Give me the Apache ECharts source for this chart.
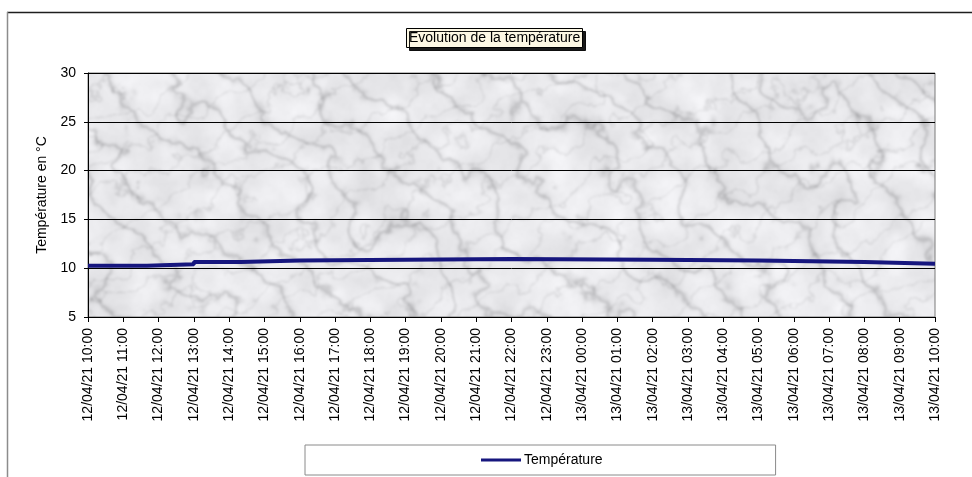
<!DOCTYPE html>
<html>
<head>
<meta charset="utf-8">
<script src="https://cdn.jsdelivr.net/npm/echarts@6/dist/echarts.min.js"></script>
<style>
  html, body { margin: 0; padding: 0; background: #ffffff; }
  #chart { width: 972px; height: 477px; }
</style>
</head>
<body>
<div id="chart"></div>
<script>
// Hourly tick labels along the time axis (hours since 12/04/21 10:00)
const hourLabels = [
  '12/04/21 10:00', '12/04/21 11:00', '12/04/21 12:00', '12/04/21 13:00',
  '12/04/21 14:00', '12/04/21 15:00', '12/04/21 16:00', '12/04/21 17:00',
  '12/04/21 18:00', '12/04/21 19:00', '12/04/21 20:00', '12/04/21 21:00',
  '12/04/21 22:00', '12/04/21 23:00', '13/04/21 00:00', '13/04/21 01:00',
  '13/04/21 02:00', '13/04/21 03:00', '13/04/21 04:00', '13/04/21 05:00',
  '13/04/21 06:00', '13/04/21 07:00', '13/04/21 08:00', '13/04/21 09:00',
  '13/04/21 10:00'
];

// Recorded readings: time (hours since start) and temperature in °C
const readingHours = [0, 1.67, 3, 4.33, 6, 12, 16, 19, 22, 24];
const temperatures = [10.24, 10.41, 10.64, 10.79, 10.95, 10.87, 10.8, 10.63, 10.45, 10.45];

const yTicks = { min: 5, max: 30, interval: 5 };

const seriesData = readingHours.map((h, i) => [h, temperatures[i]]);

// Procedural grey marble used as the plot-area fill
function marbleCanvas(w, h) {
  const c = document.createElement('canvas');
  c.width = w; c.height = h;
  const ctx = c.getContext('2d');
  const img = ctx.createImageData(w, h);
  const hash = (i, j) => {
    const s = Math.sin(i * 127.1 + j * 311.7) * 43758.5453;
    return s - Math.floor(s);
  };
  const fade = t => t * t * (3 - 2 * t);
  const noise = (x, y) => {
    const i = Math.floor(x), j = Math.floor(y);
    const fx = fade(x - i), fy = fade(y - j);
    const a = hash(i, j), b = hash(i + 1, j), cc = hash(i, j + 1), d = hash(i + 1, j + 1);
    return a + (b - a) * fx + (cc - a) * fy + (a - b - cc + d) * fx * fy;
  };
  const fbm = (x, y) => {
    let v = 0, amp = 0.5, f = 1;
    for (let o = 0; o < 5; o++) { v += amp * noise(x * f, y * f); f *= 2; amp *= 0.5; }
    return v;
  };
  for (let y = 0; y < h; y++) {
    for (let x = 0; x < w; x++) {
      const t = fbm(x / 60, y / 60);
      const v = Math.sin((x * 0.75 - y * 0.66) / 16 + t * 8);
      const vein = Math.pow(1 - Math.abs(v), 6);
      const t2 = fbm(x / 25 + 50, y / 25 + 50);
      const v2 = Math.sin((x * 0.5 + y * 0.86) / 10 + t2 * 6);
      const vein2 = Math.pow(1 - Math.abs(v2), 9);
      let g = 234 + (fbm(x / 28 + 9, y / 28 + 3) - 0.5) * 34 - vein * 42 - vein2 * 26;
      g = Math.max(160, Math.min(250, g));
      const k = (y * w + x) * 4;
      img.data[k] = g; img.data[k + 1] = g; img.data[k + 2] = Math.min(255, g + 3); img.data[k + 3] = 255;
    }
  }
  ctx.putImageData(img, 0, 0);
  // soften the veins slightly
  const soft = document.createElement('canvas');
  soft.width = w; soft.height = h;
  const sctx = soft.getContext('2d');
  sctx.filter = 'blur(1px)';
  sctx.drawImage(c, 0, 0);
  return soft;
}

const chart = echarts.init(document.getElementById('chart'), null, { renderer: 'canvas' });

const font = '"Liberation Sans", Arial, sans-serif';

chart.setOption({
  animation: false,
  backgroundColor: '#ffffff',
  title: {
    text: 'Evolution de la température',
    left: 406,
    top: 28,
    padding: [3, 3, 3, 3],
    backgroundColor: '#fdf8e4',
    borderColor: '#000000',
    borderWidth: 1,
    shadowColor: 'rgba(0,0,0,0.9)',
    shadowOffsetX: 3,
    shadowOffsetY: 3,
    shadowBlur: 0,
    textStyle: { fontFamily: font, fontSize: 14, fontWeight: 'normal', color: '#000000' }
  },
  legend: {
    left: 305,
    top: 445,
    width: 470,
    padding: [8, 173, 8, 176],
    borderColor: '#8a8a8a',
    borderWidth: 1,
    backgroundColor: '#ffffff',
    itemWidth: 40,
    itemHeight: 3,
    itemGap: 5,
    icon: 'rect',
    textStyle: { fontFamily: font, fontSize: 14, color: '#000000', padding: [0, 0, 0, -2] },
    data: ['Température']
  },
  grid: {
    left: 88,
    right: 37,
    top: 73,
    bottom: 160,
    show: true,
    backgroundColor: { image: marbleCanvas(972, 477), repeat: 'no-repeat' },
    borderColor: '#7a7a7a',
    borderWidth: 1
  },
  xAxis: {
    type: 'value',
    min: 0,
    max: hourLabels.length - 1,
    interval: 1,
    axisLine: { show: true, onZero: false, lineStyle: { color: '#000000', width: 1 } },
    axisTick: { show: true, length: 5, lineStyle: { color: '#000000' } },
    splitLine: { show: false },
    axisLabel: {
      rotate: 90,
      margin: 11,
      fontFamily: font,
      fontSize: 14,
      color: '#000000',
      formatter: v => hourLabels[Math.round(v)] || ''
    }
  },
  yAxis: {
    type: 'value',
    min: yTicks.min,
    max: yTicks.max,
    interval: yTicks.interval,
    name: 'Température en °C',
    nameLocation: 'middle',
    nameGap: 35,
    nameTextStyle: { fontFamily: font, fontSize: 14, color: '#000000' },
    axisLine: { show: true, lineStyle: { color: '#000000', width: 1 } },
    axisTick: { show: true, length: 4, lineStyle: { color: '#000000' } },
    axisLabel: { margin: 12, fontFamily: font, fontSize: 14, color: '#000000' },
    splitLine: { show: true, lineStyle: { color: '#000000', width: 1 } }
  },
  series: [{
    name: 'Température',
    type: 'line',
    step: 'end',
    data: seriesData,
    showSymbol: false,
    symbol: 'none',
    color: '#16167e',
    lineStyle: { color: '#16167e', width: 4 }
  }],
  graphic: [
    // outer chart frame: top and left edges
    { type: 'line', shape: { x1: 7, y1: 12.5, x2: 972, y2: 12.5 }, style: { stroke: '#1e1e1e', lineWidth: 1.5 } },
    { type: 'line', shape: { x1: 7.5, y1: 12, x2: 7.5, y2: 477 }, style: { stroke: '#8c8c8c', lineWidth: 1.5 } }
  ]
});
</script>
</body>
</html>
